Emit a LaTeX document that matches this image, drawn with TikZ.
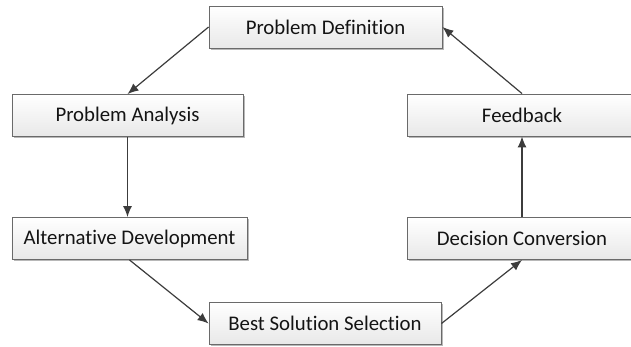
\documentclass[tikz,border=0pt]{standalone}
\usepackage{fontspec}
\setmainfont[Ligatures=NoCommon]{Carlito}
\usetikzlibrary{shadows,arrows.meta}
\definecolor{boxline}{HTML}{6A6A6A}
\definecolor{arrowc}{HTML}{3C3C3C}
\definecolor{txt}{HTML}{141414}
\begin{document}
\begin{tikzpicture}[x=1bp,y=-1bp,
  box/.style={draw=boxline, line width=0.9bp, rectangle, inner sep=0pt,
    top color=white, bottom color=black!9, minimum height=42bp,
    text=txt, font=\fontsize{20.8bp}{25bp}\selectfont,
    drop shadow={shadow xshift=1.6bp, shadow yshift=-1.6bp, fill=black!28, opacity=1}},
  conn/.style={draw=arrowc, line width=1.2bp, -{Latex[length=11bp,width=9bp]}}]
\useasboundingbox (0,0) rectangle (631,346);
\begin{scope}
\clip (0,0) rectangle (631,346);
\node[box, minimum width=233bp] (pd) at (325.5,27) {Problem Definition};
\node[box, minimum width=231bp] (pa) at (127.5,115.5) {Problem Analysis};
\node[box, minimum width=235bp] (ad) at (129.5,238.5) {Alternative Development};
\node[box, minimum width=232bp] (bs) at (325,323.5) {Best Solution Selection};
\node[box, minimum width=230bp] (dc) at (522,238.5) {Decision Conversion};
\node[box, minimum width=230bp] (fb) at (522,115) {Feedback};
\end{scope}
\draw[conn] (pd.west) -- (pa.north);
\draw[conn] (pa.south) -- (pa.south |- ad.north);
\draw[conn] (ad.south) -- (bs.west);
\draw[conn] (bs.east) -- (dc.south);
\draw[conn] (dc.north) -- (fb.south);
\draw[conn] (fb.north) -- (pd.east);
\end{tikzpicture}
\end{document}
